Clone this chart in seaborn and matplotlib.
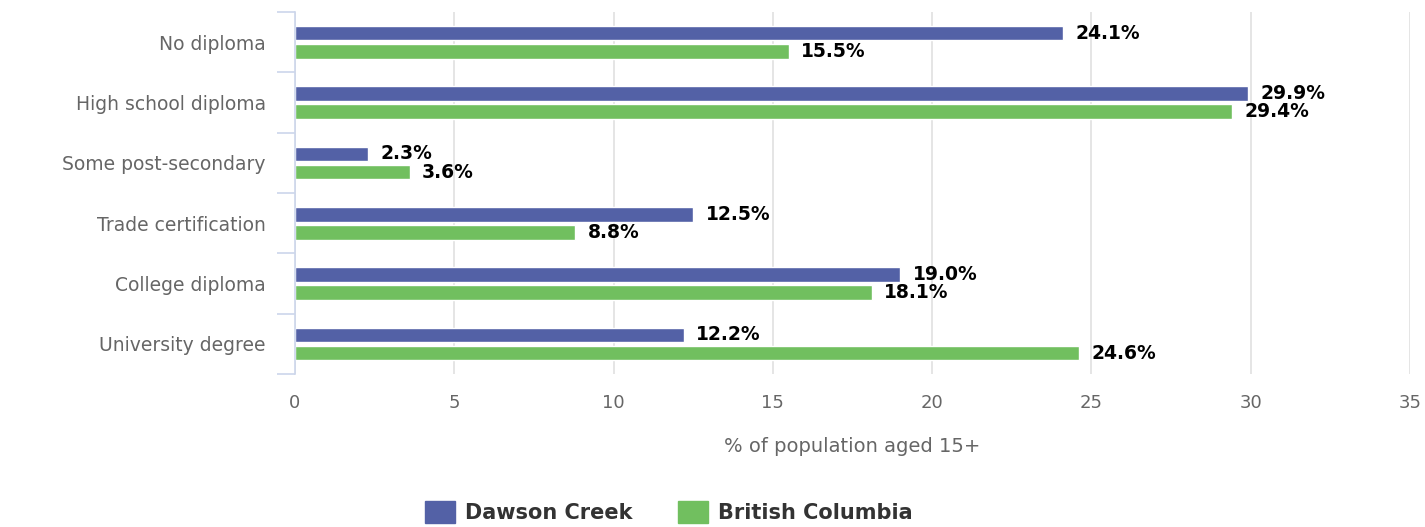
import pandas as pd
import seaborn as sns
import matplotlib.pyplot as plt
import numpy as np
from matplotlib.ticker import FixedLocator

categories = ["No diploma", "High school diploma", "Some post-secondary",
              "Trade certification", "College diploma", "University degree"]
dawson = [24.1, 29.9, 2.3, 12.5, 19.0, 12.2]
bc = [15.5, 29.4, 3.6, 8.8, 18.1, 24.6]
series = ["Dawson Creek", "British Columbia"]
colors = ["#5361a6", "#71bf5f"]

df = pd.DataFrame({
    "category": categories * 2,
    "value": dawson + bc,
    "series": [series[0]] * len(categories) + [series[1]] * len(categories),
})

sns.set_theme(style="white")
plt.rcParams['font.family'] = ['DejaVu Sans']

fig = plt.figure(figsize=(14.25, 5.27), dpi=100)
ax = fig.add_axes([0.207, 0.290, 0.7825, 0.687])

sns.barplot(data=df, y="category", x="value", hue="series", orient="h",
            palette=colors, width=0.6, gap=0.2, dodge=True, ax=ax,
            legend=False, saturation=1)

for cont in ax.containers:
    ax.bar_label(cont, labels=[f"{v:.1f}%" for v in cont.datavalues],
                 padding=9, fontsize=13.5, fontweight="bold", color="black")

ax.set_xlim(0, 35)
ax.set_ylim(5.5, -0.5)
ax.set_xticks(range(0, 36, 5))
ax.grid(axis="x", color="#e0e0e0", linewidth=1.2)
ax.set_axisbelow(True)
for s in ["top", "right", "bottom"]:
    ax.spines[s].set_visible(False)
ax.spines["left"].set_color("#ccd6eb")
ax.spines["left"].set_linewidth(1.2)

ax.tick_params(axis="y", which="major", length=0, pad=21, labelsize=13.5, labelcolor="#666666")
ax.yaxis.set_minor_locator(FixedLocator(np.arange(-0.5, 6, 1)))
ax.tick_params(axis="y", which="minor", left=True, length=13, color="#ccd6eb", width=1.2)
ax.tick_params(axis="x", length=0, pad=14, labelsize=13, labelcolor="#666666")

ax.set_ylabel("")
ax.set_xlabel("% of population aged 15+", fontsize=14, color="#666666", labelpad=18)

handles = [plt.Rectangle((0, 0), 1, 1, color=c) for c in colors]
fig.legend(handles, series, loc="center", bbox_to_anchor=(0.4695, 0.028), ncol=2,
           frameon=False, handlelength=1.4, handleheight=1.25, handletextpad=0.5,
           columnspacing=2.2, labelcolor="#333333",
           prop={"weight": "bold", "size": 15})

plt.savefig("out.png", dpi=100)
